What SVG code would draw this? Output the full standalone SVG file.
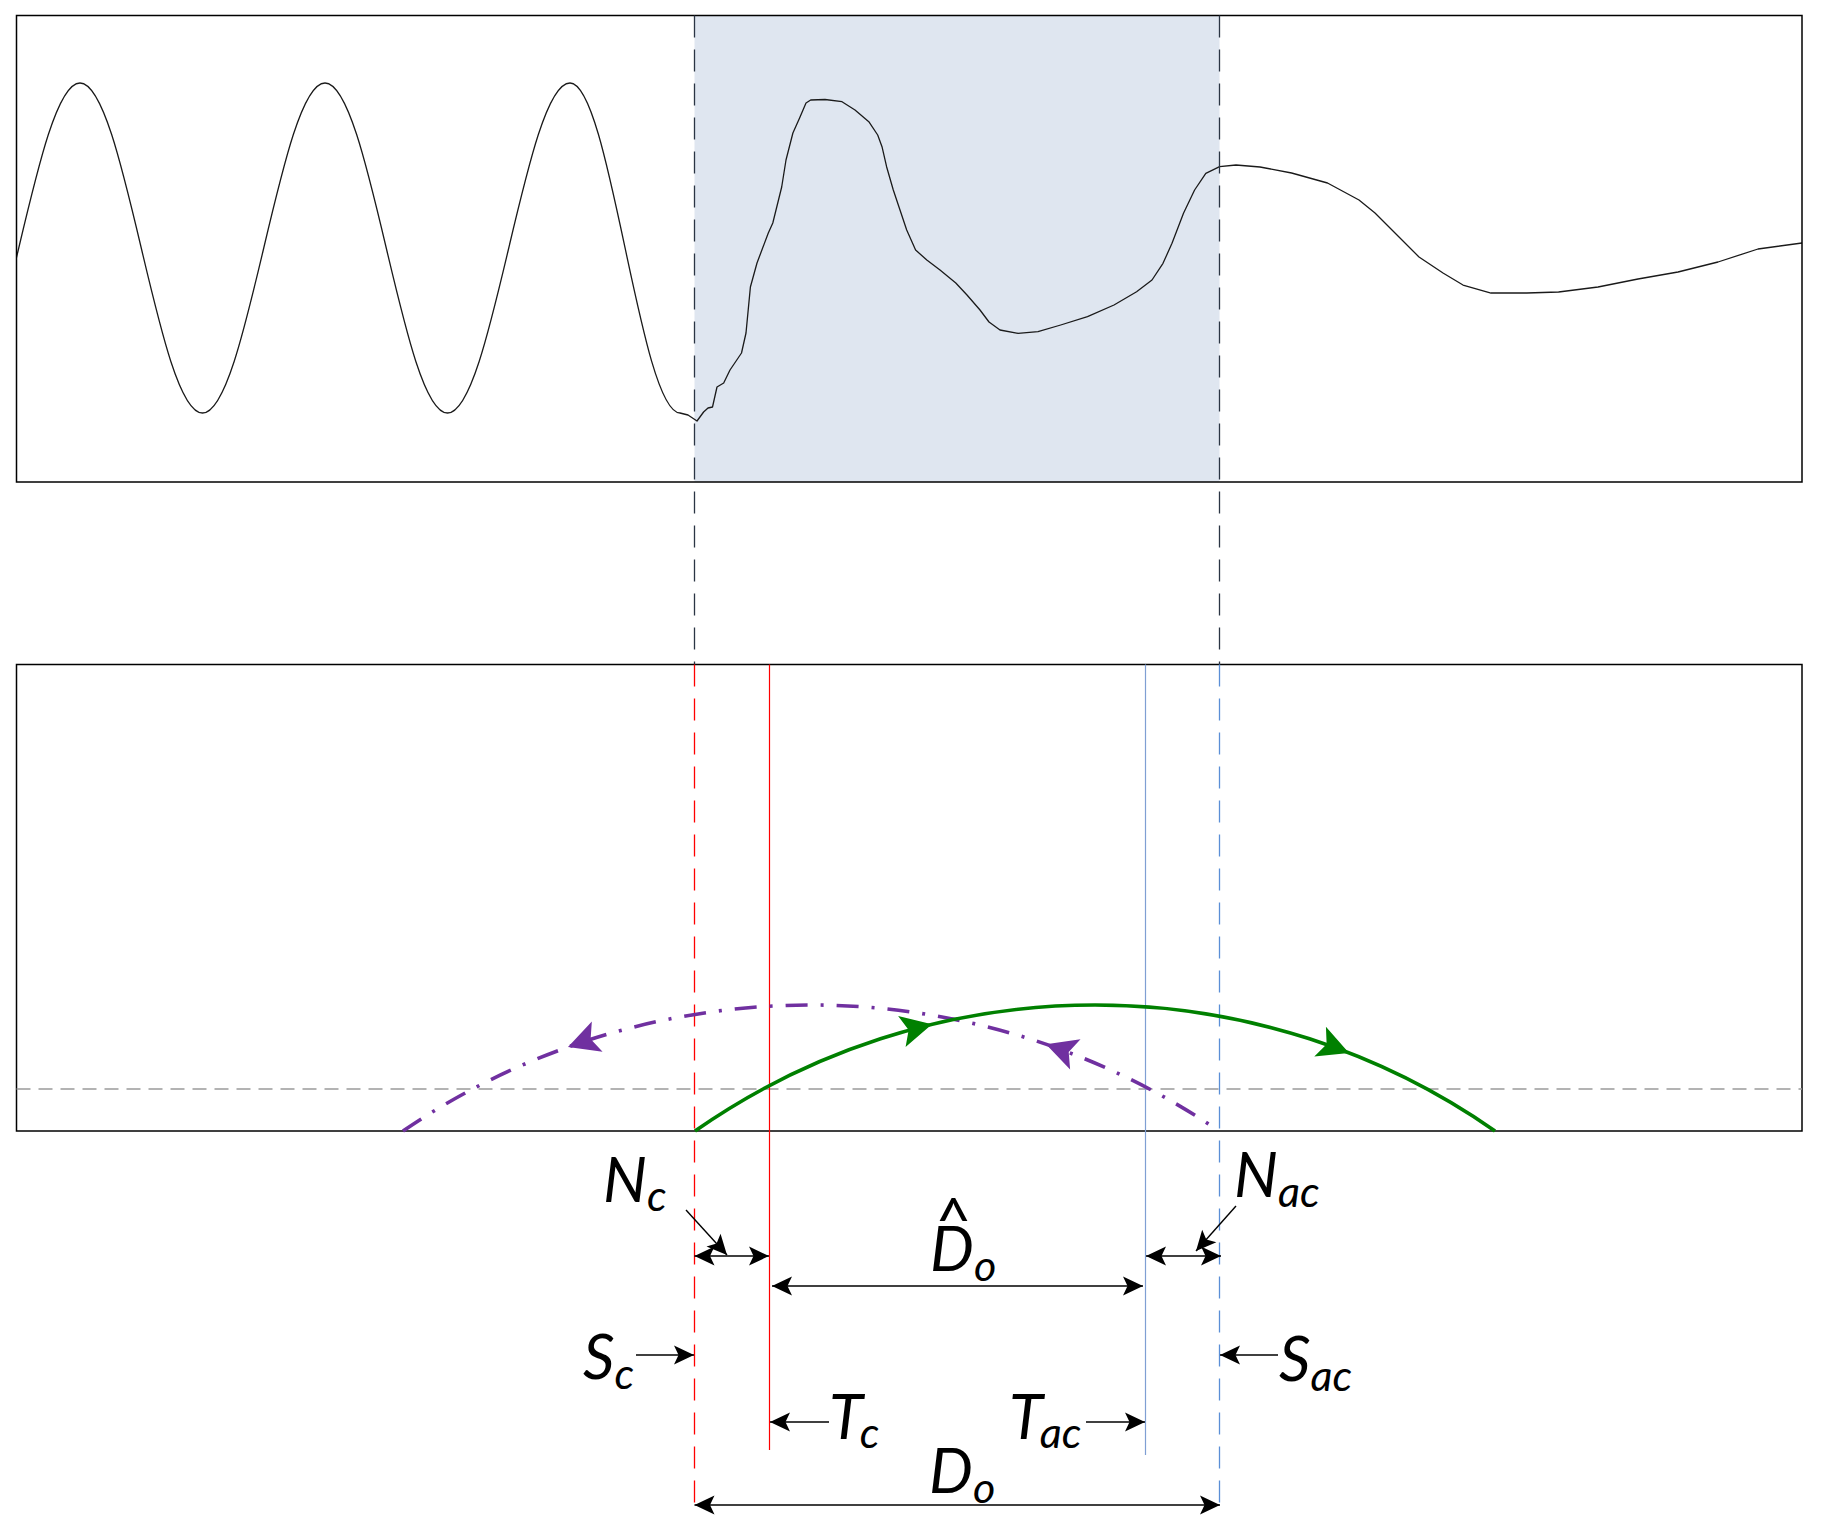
<svg xmlns="http://www.w3.org/2000/svg" xmlns:xlink="http://www.w3.org/1999/xlink" width="1825" height="1520" viewBox="0 0 1825 1520">
<style>
.box{fill:none;stroke:#000;stroke-width:1.5}
.wave{fill:none;stroke:#1a1a1a;stroke-width:1.3;stroke-linejoin:round}
.vdash{fill:none;stroke-width:1.3;stroke-dasharray:22 12}
.lbl{font-family:Lato,"Open Sans","Liberation Sans",sans-serif;font-style:italic;font-size:62px;fill:#000}
.sub{font-size:43px}
.dim{fill:none;stroke:#000;stroke-width:1.4}
</style>
<defs>
<clipPath id="topclip"><rect x="16.5" y="15.5" width="1785.5" height="466.5"/></clipPath>
<marker id="ah" markerUnits="userSpaceOnUse" viewBox="-22 -11 24 22" markerWidth="24" markerHeight="22" refX="0" refY="0" orient="auto-start-reverse">
<path d="M0,0 L-20,-9.5 L-15.5,0 L-20,9.5 Z" fill="#000"/>
</marker>
<path id="bigArrow" d="M0,0 L-31,-16 L-24,0 L-31,16 Z"/>
</defs>

<g id="top-panel">
<rect x="694.5" y="15.5" width="525" height="466.5" fill="#DFE6F0"/>
<g clip-path="url(#topclip)">
<path class="wave" d="M-42.5,413 C2,413 35.5,83 80,83 C124.5,83 158,413 202.5,413 C247,413 280.5,83 325,83 C369.5,83 403,413 447.5,413 C492,413 525.5,83 570,83 C610,83 640,412 680,413 L688,415 L697,421 L703.6,412 L708,408 L712.5,407 L717,387 L723.7,383 L730,370 L741.5,353 L746,333 L750.4,287 L757,263 L768.3,233 L772.8,223 L781.7,187 L786,160 L792.9,133 L799.6,118 L806,103 L810.7,100 L825,99.5 L842,101.7 L855,110 L868.8,121.7 L877.7,135 L882,146.7 L886.6,166.7 L893.3,190 L900,210 L906.7,230 L915.6,250 L926.8,260 L940,270 L955.8,283 L967,295 L980,310 L989,322 L1000,330 L1018,333.3 L1038,331.7 L1060.7,325 L1087.5,316.7 L1114,305 L1136.6,291.7 L1152,280 L1163,263.3 L1172,243.3 L1183.5,213.3 L1194.6,190 L1205.8,173.3 L1219.6,166.7 L1236,165 L1260,167 L1291.6,173 L1327.5,183 L1359,200 L1375,213 L1399,237 L1419,257 L1443,273 L1463,285 L1491,293 L1526.7,293 L1558.6,292 L1598,287 L1638,279 L1678,272 L1718,262 L1758,249 L1802,243"/>
</g>
<rect class="box" x="16.5" y="15.5" width="1785.5" height="466.5"/>
</g>

<g id="bottom-panel">
<rect class="box" x="16.5" y="664.5" width="1785.5" height="466.5"/>
<line x1="16.5" y1="1089" x2="1802" y2="1089" stroke="#9a9a9a" stroke-width="1.5" stroke-dasharray="14 8"/>
</g>

<g id="guides">
<line class="vdash" x1="694.5" y1="15.5" x2="694.5" y2="664.5" stroke="#2B3544"/>
<line class="vdash" x1="1219.5" y1="15.5" x2="1219.5" y2="664.5" stroke="#2B3544"/>
<line class="vdash" x1="694.5" y1="664.5" x2="694.5" y2="1505" stroke="#FF0000"/>
<line class="vdash" x1="1219.5" y1="664.5" x2="1219.5" y2="1505" stroke="#5B8FD6"/>
<line x1="769.5" y1="664.5" x2="769.5" y2="1450" stroke="#FF0000" stroke-width="1.2"/>
<line x1="1145.5" y1="664.5" x2="1145.5" y2="1455" stroke="#7F9FD3" stroke-width="1.2"/>
</g>

<g id="trajectories">
<path d="M403,1131 A723.6,723.6 0 0,1 1219,1131" fill="none" stroke="#7030A0" stroke-width="3.6" stroke-dasharray="22 13 3 13"/>
<path d="M695,1131 A698,698 0 0,1 1495,1131" fill="none" stroke="#008000" stroke-width="3.6"/>
<use xlink:href="#bigArrow" href="#bigArrow" fill="#008000" transform="translate(932,1024.3) rotate(-13.5)"/>
<use xlink:href="#bigArrow" href="#bigArrow" fill="#008000" transform="translate(1349,1052.9) rotate(21.3)"/>
<use xlink:href="#bigArrow" href="#bigArrow" fill="#7030A0" transform="translate(568,1047) rotate(160.4)"/>
<use xlink:href="#bigArrow" href="#bigArrow" fill="#7030A0" transform="translate(1046,1044.2) rotate(-161.05)"/>
</g>

<g id="connectors">
<path class="dim" d="M694.5,1256 H769" marker-start="url(#ah)" marker-end="url(#ah)"/>
<path class="dim" d="M686,1210 L727,1255" marker-end="url(#ah)"/>
<path class="dim" d="M1146,1256 H1221" marker-start="url(#ah)" marker-end="url(#ah)"/>
<path class="dim" d="M1236,1206 L1196,1251" marker-end="url(#ah)"/>
<path class="dim" d="M772,1286 H1143" marker-start="url(#ah)" marker-end="url(#ah)"/>
<path class="dim" d="M636,1355 H694" marker-end="url(#ah)"/>
<path class="dim" d="M1278,1355 H1220" marker-end="url(#ah)"/>
<path class="dim" d="M829,1422 H770" marker-end="url(#ah)"/>
<path class="dim" d="M1086,1422 H1145" marker-end="url(#ah)"/>
<path class="dim" d="M694.5,1505 H1220" marker-start="url(#ah)" marker-end="url(#ah)"/>
</g>

<g id="labels">
<text class="lbl" x="603" y="1202">N<tspan class="sub" dy="9">c</tspan></text>
<text class="lbl" x="1234" y="1197">N<tspan class="sub" dy="10">ac</tspan></text>
<text class="lbl" x="930" y="1271">D<tspan x="953.5" y="1243" text-anchor="middle" style="font-style:normal">^</tspan><tspan class="sub" x="974" y="1281">o</tspan></text>
<text class="lbl" x="583" y="1379">S<tspan class="sub" dy="10">c</tspan></text>
<text class="lbl" x="1279" y="1381">S<tspan class="sub" dy="10">ac</tspan></text>
<text class="lbl" x="829" y="1439">T<tspan class="sub" dy="9" dx="-3">c</tspan></text>
<text class="lbl" x="1009" y="1439">T<tspan class="sub" dy="9" dx="-3">ac</tspan></text>
<text class="lbl" x="929" y="1493">D<tspan class="sub" dy="10">o</tspan></text>
</g>
</svg>
